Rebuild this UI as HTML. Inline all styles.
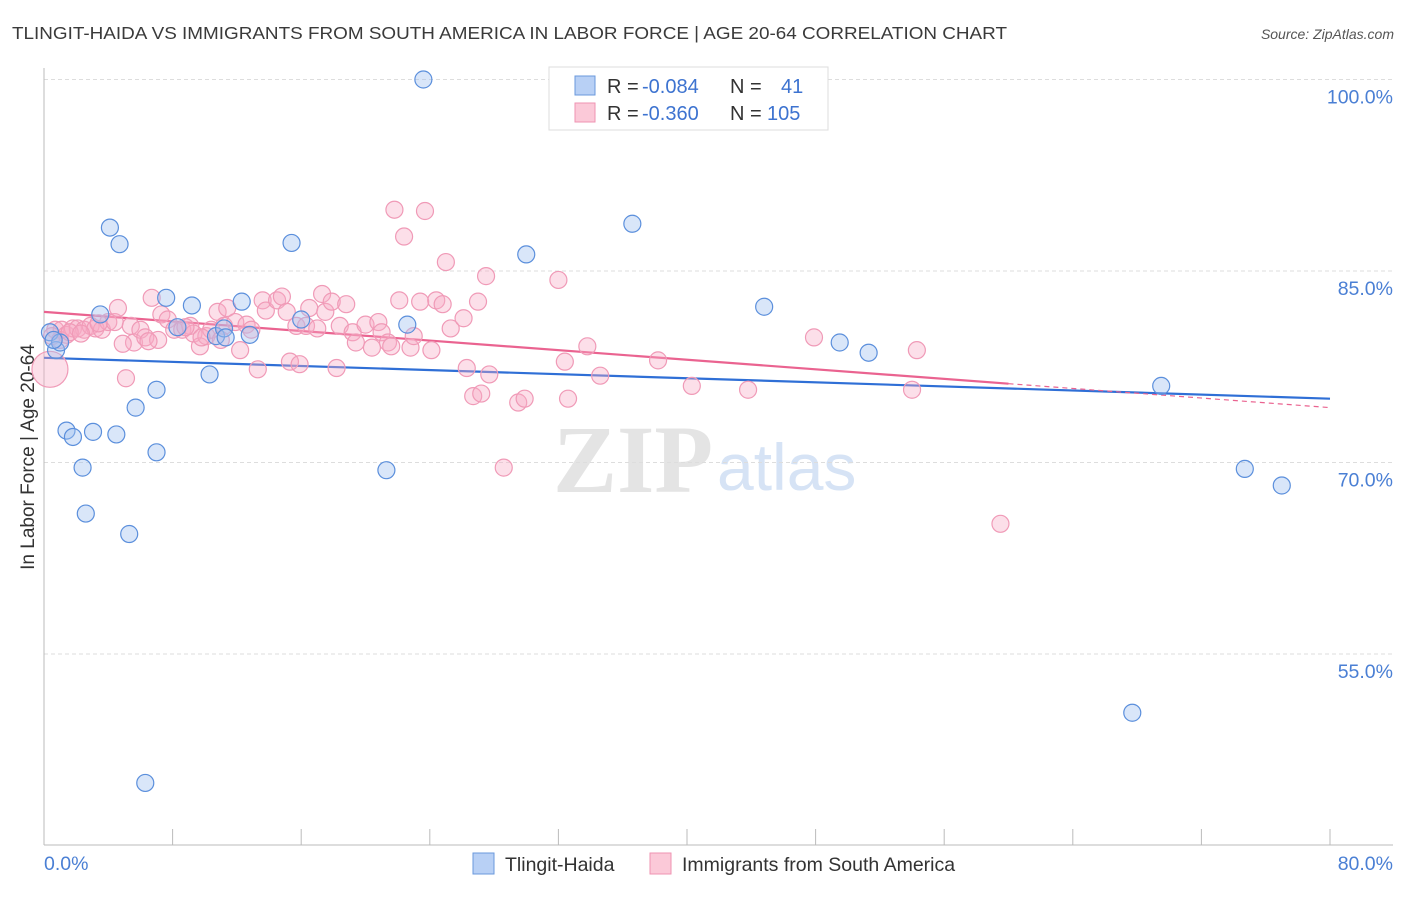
<!DOCTYPE html>
<html><head><meta charset="utf-8"><style>
body{margin:0;background:#fff;font-family:"Liberation Sans",sans-serif;}
</style></head><body>
<svg width="1406" height="892" xmlns="http://www.w3.org/2000/svg">
<text x="12" y="39" font-size="17.5" fill="#3a3a3a" textLength="995" lengthAdjust="spacingAndGlyphs">TLINGIT-HAIDA VS IMMIGRANTS FROM SOUTH AMERICA IN LABOR FORCE | AGE 20-64 CORRELATION CHART</text>
<text x="1394" y="39" font-size="14" fill="#555" font-style="italic" text-anchor="end">Source: ZipAtlas.com</text>
<text transform="translate(34,457) rotate(-90)" font-size="19" fill="#333" text-anchor="middle">In Labor Force | Age 20-64</text>
<g>
<text x="553" y="492" font-size="96" font-family="Liberation Serif,serif" fill="#e4e4e4" font-weight="bold">ZIP</text>
<text x="717" y="490" font-size="66" fill="#d6e3f5">atlas</text>
</g>
<g id="grid"></g><g id="axes"></g><g id="trends"></g><g id="pts"></g>
<g>
<rect x="549" y="67" width="279" height="63" fill="#fff" stroke="#ddd"/>
<rect x="575" y="76" width="20" height="19" fill="#b8d0f5" stroke="#6a98dc"/>
<rect x="575" y="103" width="20" height="19" fill="#fbc9d8" stroke="#ef93b2"/>
<text x="607" y="93" font-size="20" fill="#333">R = <tspan x="642" fill="#3d73d0">-0.084</tspan><tspan x="730">N =</tspan><tspan x="781" fill="#3d73d0">41</tspan></text>
<text x="607" y="120" font-size="20" fill="#333">R = <tspan x="642" fill="#3d73d0">-0.360</tspan><tspan x="730">N =</tspan><tspan x="767" fill="#3d73d0">105</tspan></text>
</g>
<g>
<rect x="473" y="853" width="21" height="21" fill="#b8d0f5" stroke="#6a98dc"/>
<text x="505" y="871" font-size="19.5" fill="#333">Tlingit-Haida</text>
<rect x="650" y="853" width="21" height="21" fill="#fbc9d8" stroke="#ef93b2"/>
<text x="682" y="871" font-size="19.5" fill="#333">Immigrants from South America</text>
</g>
</svg>
<script>
const xTicks=[0,8,16,24,32,40,48,56,64,72,80];
const yTicks=[55,70,85,100];
const yTickLabels=["55.0%","70.0%","85.0%","100.0%"];
const blueX=[0.37,0.75,1.0,3.5,4.1,4.7,1.4,1.8,2.4,2.6,3.05,4.5,5.3,5.7,6.3,7.0,7.0,7.6,8.3,9.2,10.3,10.7,11.2,11.3,12.3,12.8,15.4,16.0,21.3,22.6,23.6,30.0,36.6,44.8,49.5,51.3,67.7,69.5,74.7,77.0,0.6];
const blueY=[80.2,78.8,79.4,81.6,88.4,87.1,72.5,72.0,69.6,66.0,72.4,72.2,64.4,74.3,44.9,75.7,70.8,82.9,80.6,82.3,76.9,79.9,80.5,79.8,82.6,80.0,87.2,81.2,69.4,80.8,100,86.3,88.7,82.2,79.4,78.6,50.4,76.0,69.5,68.2,79.6];
const pinkX=[0.7,1.1,1.4,1.8,2.1,2.5,2.9,3.2,3.6,4.0,4.4,4.6,5.1,5.4,5.6,6.0,6.3,6.7,7.1,7.3,7.7,8.1,8.6,9.1,9.3,9.7,10.1,10.4,10.8,11.2,11.4,11.9,12.2,12.6,12.9,13.3,13.6,13.8,14.5,14.8,15.1,15.3,15.7,15.9,16.3,16.5,17.0,17.3,17.5,17.9,18.2,18.4,18.8,19.2,19.4,20.0,20.4,20.8,21.0,21.4,21.6,21.8,22.1,22.4,22.8,23.0,23.4,23.7,24.1,24.4,24.8,25.0,25.3,26.1,26.3,26.7,27.0,27.2,27.5,27.7,28.6,29.5,29.9,32.0,32.4,32.6,33.8,34.6,38.2,40.3,43.8,47.9,54.0,54.3,59.5,1.0,1.6,2.3,3.4,4.9,6.5,8.8,9.8,11.0,0.5];
const pinkY=[80.4,80.4,80.0,80.5,80.5,80.4,80.7,80.5,80.4,81.0,81.0,82.1,76.6,80.7,79.4,80.4,79.8,82.9,79.6,81.6,81.2,80.4,80.4,80.7,80.1,79.1,79.9,80.4,81.8,80.7,82.1,81.0,78.8,80.8,80.4,77.3,82.7,81.9,82.7,83.0,81.8,77.9,80.7,77.7,80.7,82.1,80.5,83.2,81.8,82.6,77.4,80.7,82.4,80.2,79.4,80.8,79.0,81.0,80.2,79.4,79.1,89.8,82.7,87.7,79.0,79.9,82.6,89.7,78.8,82.7,82.4,85.7,80.5,81.3,77.4,75.2,82.6,75.4,84.6,76.9,69.6,74.7,75.0,84.3,77.9,75.0,79.1,76.8,78.0,76.0,75.7,79.8,75.7,78.8,65.2,79.6,80.2,80.1,80.9,79.3,79.5,80.6,79.8,79.6,79.9];
const bigPinkX=[0.37], bigPinkY=[77.3];
const blueTrend=[78.2,75.0];
const pinkTrend=[81.8,74.3]; const pinkSolidEnd=60;
const NS="http://www.w3.org/2000/svg";
const X=v=>44+v/80*1286, Y=v=>79.5+(100-v)*12.767;
function mk(t,a,p){const e=document.createElementNS(NS,t);for(const k in a)e.setAttribute(k,a[k]);p.appendChild(e);return e;}
const grid=document.getElementById('grid'),axes=document.getElementById('axes'),tr=document.getElementById('trends'),pts=document.getElementById('pts');
yTicks.forEach((t,i)=>{
 const l=mk('line',{x1:44,x2:1393,y1:Y(t),y2:Y(t),stroke:'#ddd','stroke-dasharray':'4,3'},grid);
 
 
 const tx=mk('text',{x:1393,y:Y(t)+24,'font-size':19.5,fill:'#4a7fd4','text-anchor':'end'},grid);tx.textContent=yTickLabels[i];
 
 
});
const ya=mk('line',{x1:44,x2:44,y1:68,y2:845,stroke:'#bbb'},axes);


const xa=mk('line',{x1:44,x2:1393,y1:845,y2:845,stroke:'#bbb'},axes);


xTicks.forEach(t=>{const l=mk('line',{x1:X(t),x2:X(t),y1:829,y2:845,stroke:'#bbb'},axes);
 
 });
let t0=mk('text',{x:44,y:870,'font-size':19.5,fill:'#4a7fd4'},axes);t0.textContent='0.0%';


let t1=mk('text',{x:1393,y:870,'font-size':19.5,fill:'#4a7fd4','text-anchor':'end'},axes);t1.textContent='80.0%';


function dot(x,y,r,c,name){const e=mk('circle',{cx:X(x),cy:Y(y),r:r,fill:c[0],stroke:c[1],'stroke-width':1.2},pts);
 
 }
const PC=['rgba(247,170,196,0.38)','#f09ab7'],BC=['rgba(160,192,240,0.4)','#5b8fdc'];
bigPinkX.forEach((x,i)=>dot(x,bigPinkY[i],18,PC,'point-immigrants-large'));
pinkX.forEach((x,i)=>dot(x,pinkY[i],8.5,PC,'point-immigrants'));
blueX.forEach((x,i)=>dot(x,blueY[i],8.5,BC,'point-tlingit'));
const py=x=>pinkTrend[0]+(pinkTrend[1]-pinkTrend[0])*x/80;
let l=mk('line',{x1:X(0),y1:Y(blueTrend[0]),x2:X(80),y2:Y(blueTrend[1]),stroke:'#2f6fd6','stroke-width':2.2},tr);


l=mk('line',{x1:X(0),y1:Y(py(0)),x2:X(pinkSolidEnd),y2:Y(py(pinkSolidEnd)),stroke:'#ea6390','stroke-width':2.2},tr);


l=mk('line',{x1:X(pinkSolidEnd),y1:Y(py(pinkSolidEnd)),x2:X(80),y2:Y(py(80)),stroke:'#ea6390','stroke-width':1.2,'stroke-dasharray':'5,4'},tr);


</script>
</body></html>
